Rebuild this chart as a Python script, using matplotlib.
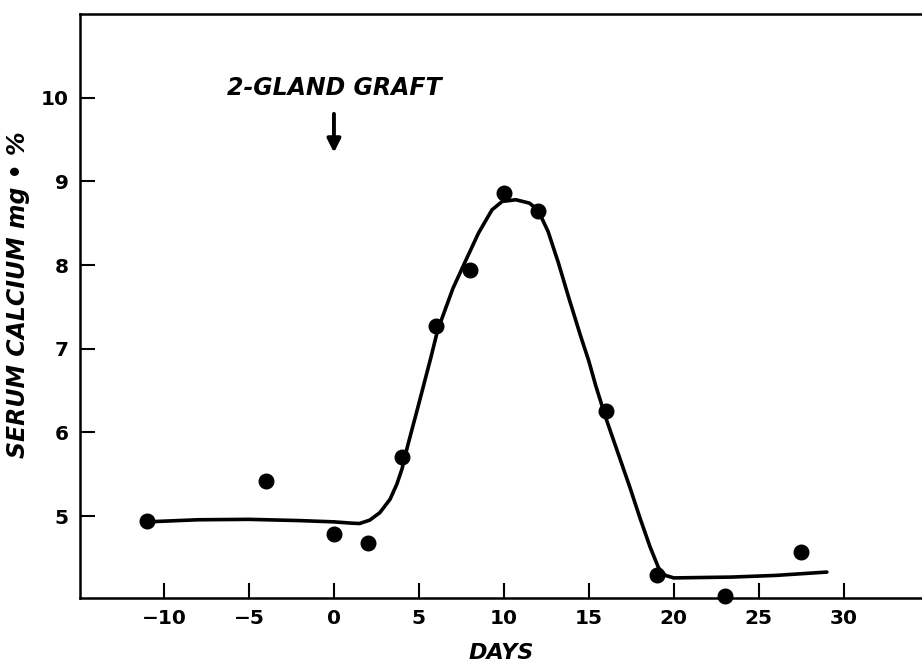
import matplotlib
matplotlib.use("Agg")
from matplotlib import pyplot as plt

# measured points (days, serum calcium mg %)
days = [-11, -4, 0, 2, 4, 6, 8, 10, 12, 16, 19, 23, 27.5]
calcium = [4.94, 5.42, 4.78, 4.68, 5.71, 7.27, 7.94, 8.86, 8.65, 6.26, 4.29, 4.04, 4.57]

# hand-drawn fitted curve
curve_days = [-11, -8, -5, -2, 0, 1.0, 1.5, 2.1, 2.7, 3.3, 3.7, 4.0, 4.35, 4.94, 5.71,
              6.1, 7.0, 7.7, 8.5, 9.3, 9.9, 10.7, 11.5, 12.0, 12.6, 13.2, 13.8,
              14.5, 15.0, 15.4, 16.0, 16.7, 17.4, 18.0, 18.6, 19.1, 19.5, 20.0,
              23.4, 26.0, 29.0]
curve_calcium = [4.93, 4.955, 4.96, 4.945, 4.93, 4.915, 4.91, 4.95, 5.04, 5.20, 5.38,
                 5.56, 5.85, 6.30, 6.90, 7.22, 7.72, 8.03, 8.38, 8.66, 8.76, 8.78,
                 8.74, 8.66, 8.40, 8.03, 7.62, 7.16, 6.85, 6.56, 6.17, 5.76, 5.35,
                 4.98, 4.63, 4.38, 4.29, 4.26, 4.27, 4.29, 4.33]

x_ticks = [-10, -5, 0, 5, 10, 15, 20, 25, 30]
y_ticks = [5, 6, 7, 8, 9, 10]

fig = plt.figure(figsize=(9.22, 6.68), dpi=100)
ax = fig.add_axes([0.0868, 0.1048, 0.9132, 0.8742])

ax.plot(curve_days, curve_calcium, color="black", linewidth=2.6,
        solid_joinstyle="round", solid_capstyle="round")
ax.plot(days, calcium, "o", color="black", markersize=10.5, clip_on=False)

ax.set_xlim(-14.94, 34.6)
ax.set_ylim(4.02, 11.0)
ax.set_xticks(x_ticks)
ax.set_yticks(y_ticks)
ax.tick_params(direction="in", length=11, width=1.5, labelsize=14.5, pad=8)
for lbl in ax.get_xticklabels() + ax.get_yticklabels():
    lbl.set_fontweight("bold")

ax.spines["right"].set_visible(False)
for side in ["left", "top", "bottom"]:
    ax.spines[side].set_linewidth(1.8)

ax.set_xlabel("DAYS", fontsize=16, fontweight="bold", style="italic")
ax.set_ylabel("SERUM CALCIUM mg • %", fontsize=17, fontweight="bold", style="italic")
ax.xaxis.set_label_coords(0.5, -0.077)
ax.yaxis.set_label_coords(-0.06, 0.52)

ax.text(0, 10.11, "2-GLAND GRAFT", ha="center", va="center",
        fontsize=17, fontweight="bold", style="italic")
ax.annotate("", xy=(0, 9.31), xytext=(0, 9.84),
            arrowprops=dict(arrowstyle="-|>", color="black", lw=2.8, mutation_scale=20))

fig.savefig("out.png", dpi=100)
